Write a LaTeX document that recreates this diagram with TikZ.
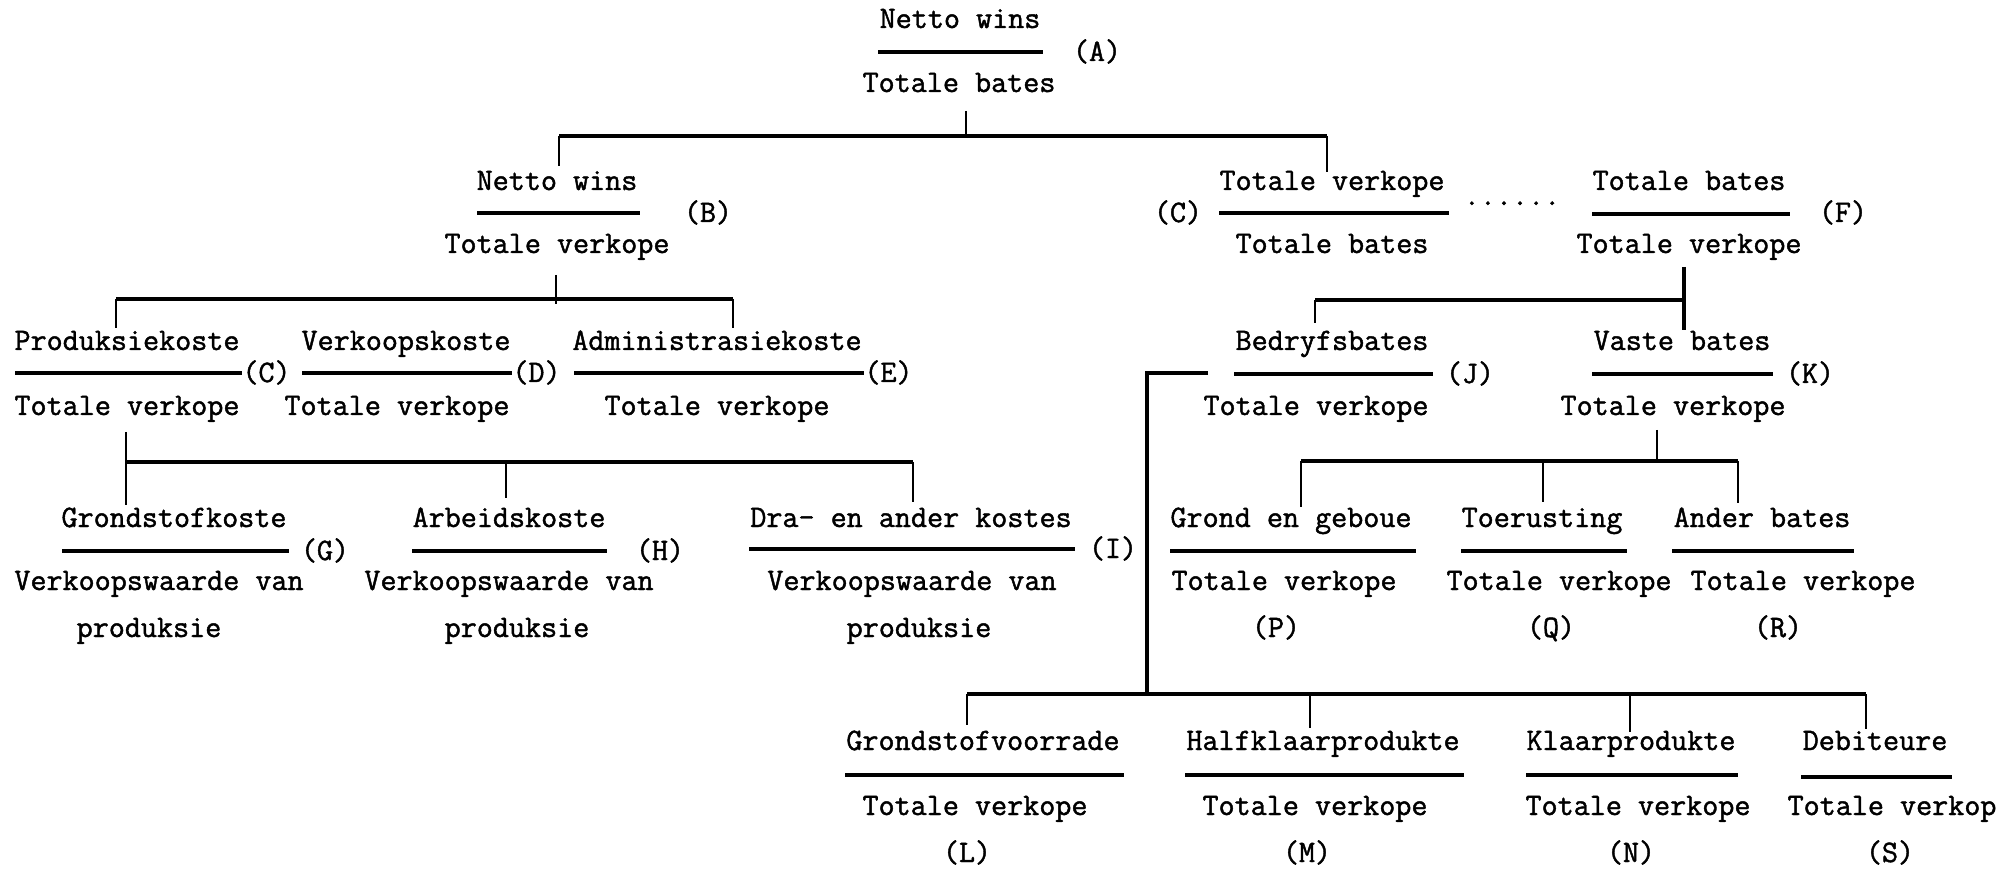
\documentclass[tikz,border=0pt]{standalone}
\usepackage{fontspec}
\newfontfamily\tyfont[FakeBold=1.4]{Latin Modern Mono}
\begin{document}
\begin{tikzpicture}[x=0.5pt,y=-0.5pt,
  txt/.style={font=\tyfont\fontsize{15.6pt}{18pt}\selectfont, inner sep=0pt, anchor=base, text=black},
  lbl/.style={txt},
  lblw/.style={txt, anchor=base west},
  bar/.style={line width=1.6pt, line cap=butt},
  hconn/.style={line width=1.7pt},
  vconn/.style={line width=1.3pt}]
\useasboundingbox[fill=white] (0,0) rectangle (2008,871);

% ---------- A ----------
\node[txt] (An) at (960,28) {Netto wins};
\node[txt] (Ad) at (959,92) {Totale bates};
\node[lbl] (Al) at (1097,61) {(A)};
\coordinate (Ab1) at (878,52); \coordinate (Ab2) at (1043,52);
\draw[bar] (Ab1) -- (Ab2);

% ---------- B ----------
\node[txt] (Bn) at (557,190) {Netto wins};
\node[txt] (Bd) at (557,253) {Totale verkope};
\node[lbl] (Bl) at (708,222) {(B)};
\coordinate (Bb1) at (477,213); \coordinate (Bb2) at (640,213);
\draw[bar] (Bb1) -- (Bb2);

% ---------- C (right) ----------
\node[txt] (Cn) at (1332,190) {Totale verkope};
\node[txt] (Cd) at (1332,253) {Totale bates};
\node[lbl] (Cl) at (1178,222) {(C)};
\coordinate (Cb1) at (1219,213); \coordinate (Cb2) at (1449,213);
\draw[bar] (Cb1) -- (Cb2);
\node[txt] (dots) at (1512,205) {......};

% ---------- F ----------
\node[txt] (Fn) at (1689,190) {Totale bates};
\node[txt] (Fd) at (1689,253) {Totale verkope};
\node[lbl] (Fl) at (1843,222) {(F)};
\coordinate (Fb1) at (1592,214); \coordinate (Fb2) at (1790,214);
\draw[bar] (Fb1) -- (Fb2);

% ---------- row 3 left ----------
\node[txt] (Pkn) at (127,350) {Produksiekoste};
\node[txt] (Pkd) at (127,415) {Totale verkope};
\coordinate (Pkb1) at (15,373); \coordinate (Pkb2) at (242,373);
\draw[bar] (Pkb1) -- (Pkb2);
\node[lblw] (Pkl) at (242,382) {(C)};

\node[txt] (Dn) at (406,350) {Verkoopskoste};
\node[txt] (Dd) at (397,415) {Totale verkope};
\coordinate (Db1) at (302,373); \coordinate (Db2) at (512,373);
\draw[bar] (Db1) -- (Db2);
\node[lblw] (Dl) at (512,382) {(D)};

\node[txt] (En) at (717,350) {Administrasiekoste};
\node[txt] (Ed) at (717,415) {Totale verkope};
\coordinate (Eb1) at (574,373); \coordinate (Eb2) at (864,373);
\draw[bar] (Eb1) -- (Eb2);
\node[lblw] (El) at (864,382) {(E)};

% ---------- J, K ----------
\node[txt] (Jn) at (1332,350) {Bedryfsbates};
\node[txt] (Jd) at (1316,415) {Totale verkope};
\node[lbl] (Jl) at (1470,383) {(J)};
\coordinate (Jb1) at (1234,374); \coordinate (Jb2) at (1433,374);
\draw[bar] (Jb1) -- (Jb2);

\node[txt] (Kn) at (1682,350) {Vaste bates};
\node[txt] (Kd) at (1673,415) {Totale verkope};
\node[lbl] (Kl) at (1810,383) {(K)};
\coordinate (Kb1) at (1592,374); \coordinate (Kb2) at (1773,374);
\draw[bar] (Kb1) -- (Kb2);

% ---------- G, H, I ----------
\node[txt] (Gn) at (174,527) {Grondstofkoste};
\node[txt] (Gd) at (159,590) {Verkoopswaarde van};
\node[txt] (Gd2) at (149,637) {produksie};
\node[lbl] (Gl) at (325,560) {(G)};
\coordinate (Gb1) at (62,551); \coordinate (Gb2) at (289,551);
\draw[bar] (Gb1) -- (Gb2);

\node[txt] (Hn) at (509,527) {Arbeidskoste};
\node[txt] (Hd) at (509,590) {Verkoopswaarde van};
\node[txt] (Hd2) at (517,637) {produksie};
\node[lbl] (Hl) at (660,560) {(H)};
\coordinate (Hb1) at (412,551); \coordinate (Hb2) at (607,551);
\draw[bar] (Hb1) -- (Hb2);

\node[txt] (In) at (911,527) {Dra- en ander kostes};
\node[txt] (Id) at (912,590) {Verkoopswaarde van};
\node[txt] (Id2) at (919,637) {produksie};
\node[lbl] (Il) at (1113,558) {(I)};
\coordinate (Ib1) at (749,549); \coordinate (Ib2) at (1075,549);
\draw[bar] (Ib1) -- (Ib2);

% ---------- P, Q, R ----------
\node[txt] (Pn) at (1291,527) {Grond en geboue};
\node[txt] (Pd) at (1284,590) {Totale verkope};
\node[lbl] (Pl) at (1276,637) {(P)};
\coordinate (Pb1) at (1170,551); \coordinate (Pb2) at (1416,551);
\draw[bar] (Pb1) -- (Pb2);

\node[txt] (Qn) at (1542,527) {Toerusting};
\node[txt] (Qd) at (1559,590) {Totale verkope};
\node[lbl] (Ql) at (1551,637) {(Q)};
\coordinate (Qb1) at (1461,551); \coordinate (Qb2) at (1627,551);
\draw[bar] (Qb1) -- (Qb2);

\node[txt] (Rn) at (1762,527) {Ander bates};
\node[txt] (Rd) at (1803,590) {Totale verkope};
\node[lbl] (Rl) at (1778,637) {(R)};
\coordinate (Rb1) at (1672,551); \coordinate (Rb2) at (1854,551);
\draw[bar] (Rb1) -- (Rb2);

% ---------- L, M, N, S ----------
\node[txt] (Ln) at (983,750) {Grondstofvoorrade};
\node[txt] (Ld) at (975,815) {Totale verkope};
\node[lbl] (Ll) at (967,862) {(L)};
\coordinate (Lb1) at (845,775); \coordinate (Lb2) at (1124,775);
\draw[bar] (Lb1) -- (Lb2);

\node[txt] (Mn) at (1323,750) {Halfklaarprodukte};
\node[txt] (Md) at (1315,815) {Totale verkope};
\node[lbl] (Ml) at (1307,862) {(M)};
\coordinate (Mb1) at (1185,775); \coordinate (Mb2) at (1464,775);
\draw[bar] (Mb1) -- (Mb2);

\node[txt] (Nn) at (1631,750) {Klaarprodukte};
\node[txt] (Nd) at (1638,815) {Totale verkope};
\node[lbl] (Nl) at (1631,862) {(N)};
\coordinate (Nb1) at (1526,775); \coordinate (Nb2) at (1738,775);
\draw[bar] (Nb1) -- (Nb2);

\node[txt] (Sn) at (1875,750) {Debiteure};
\node[txt] (Sd) at (1892,815) {Totale verkop};
\node[lbl] (Sl) at (1890,862) {(S)};
\coordinate (Sb1) at (1801,777); \coordinate (Sb2) at (1952,777);
\draw[bar] (Sb1) -- (Sb2);

% ---------- connectors ----------
% A bracket
\coordinate (Atop) at (966,111); \coordinate (Aj) at (966,136);
\coordinate (AL) at (559,136); \coordinate (ALd) at (559,166);
\coordinate (AR) at (1327,136); \coordinate (ARd) at (1327,172);
\draw[vconn] (Atop) -- (Aj);
\draw[hconn] (AL) -- (AR);
\draw[vconn] (AL) -- (ALd);
\draw[vconn] (AR) -- (ARd);

% B bracket
\coordinate (Btop) at (556,275); \coordinate (Bj) at (556,304);
\coordinate (BL) at (116,299); \coordinate (BLd) at (116,328);
\coordinate (BR) at (733,299); \coordinate (BRd) at (733,328);
\draw[vconn] (Btop) -- (Bj);
\draw[hconn] (BL) -- (BR);
\draw[vconn] (BL) -- (BLd);
\draw[vconn] (BR) -- (BRd);

% C (Produksiekoste) bracket
\coordinate (Ctop) at (126,432); \coordinate (CLd) at (126,505);
\coordinate (CL) at (126,462);
\coordinate (CM) at (506,462); \coordinate (CMd) at (506,498);
\coordinate (CR) at (913,462); \coordinate (CRd) at (913,502);
\draw[vconn] (Ctop) -- (CLd);
\draw[hconn] (CL) -- (CR);
\draw[vconn] (CM) -- (CMd);
\draw[vconn] (CR) -- (CRd);

% F bracket
\coordinate (Ftop) at (1684,267); \coordinate (Fbot) at (1684,330);
\coordinate (FR) at (1684,300);
\coordinate (FL) at (1315,300); \coordinate (FLd) at (1315,323);
\draw[vconn, line width=1.6pt] (Ftop) -- (Fbot);
\draw[hconn] (FL) -- (FR);
\draw[vconn] (FL) -- (FLd);

% J connector
\coordinate (Js) at (1208,373); \coordinate (Jc) at (1147,373);
\coordinate (Jj) at (1147,694);
\draw[line width=1.7pt] (Js) -- (Jc) -- (Jj);
\coordinate (JL) at (967,694); \coordinate (JLd) at (967,725);
\coordinate (JM) at (1310,694); \coordinate (JMd) at (1310,728);
\coordinate (JN) at (1630,694); \coordinate (JNd) at (1630,732);
\coordinate (JS) at (1866,694); \coordinate (JSd) at (1866,729);
\draw[hconn] (JL) -- (JS);
\draw[vconn] (JL) -- (JLd);
\draw[vconn] (JM) -- (JMd);
\draw[vconn] (JN) -- (JNd);
\draw[vconn] (JS) -- (JSd);

% K bracket
\coordinate (Ktop) at (1657,430); \coordinate (Kj) at (1657,461);
\coordinate (KL) at (1301,461); \coordinate (KLd) at (1301,507);
\coordinate (KM) at (1543,461); \coordinate (KMd) at (1543,502);
\coordinate (KR) at (1738,461); \coordinate (KRd) at (1738,503);
\draw[vconn] (Ktop) -- (Kj);
\draw[hconn] (KL) -- (KR);
\draw[vconn] (KL) -- (KLd);
\draw[vconn] (KM) -- (KMd);
\draw[vconn] (KR) -- (KRd);
\end{tikzpicture}
\end{document}
